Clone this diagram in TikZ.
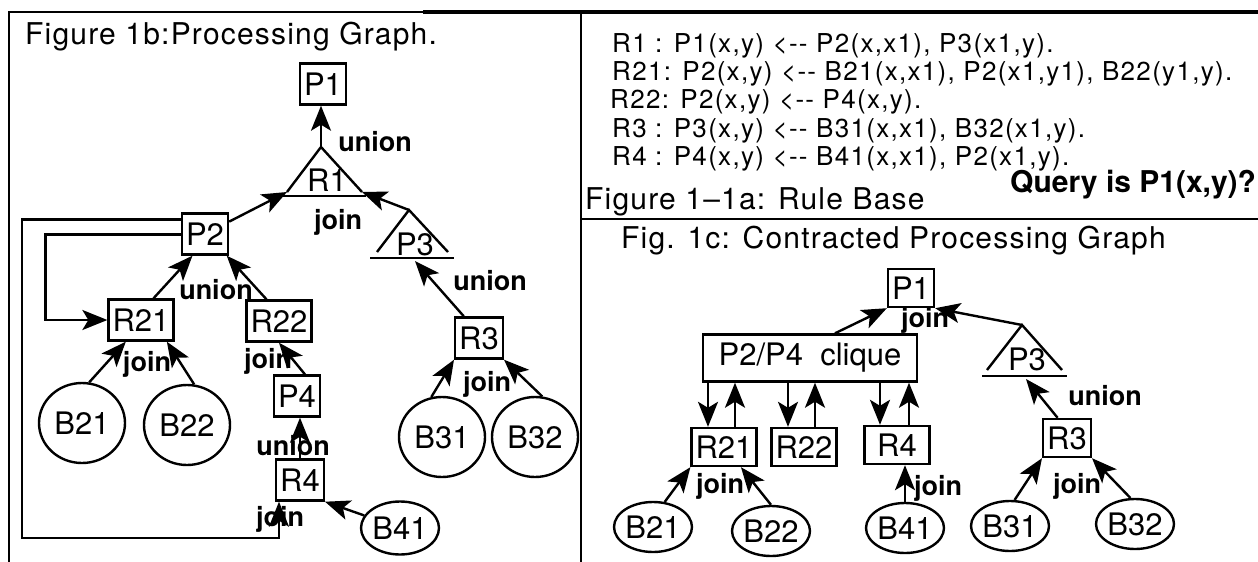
\documentclass[tikz,border=0pt]{standalone}
\usepackage{fontspec}
\setmainfont{TeX Gyre Heros}
\newfontfamily\rulefont[LetterSpace=5]{TeX Gyre Heros}
\newfontfamily\titlefont[LetterSpace=4]{TeX Gyre Heros}
\usetikzlibrary{arrows.meta, shapes.geometric, calc}
\tikzset{
    panelline/.style={line width=2.4pt},
    pnode/.style={draw, line width=2.4pt, rectangle, inner xsep=4pt,
                  inner ysep=0pt, minimum height=41pt,
                  font=\fontsize{31}{31}\selectfont},
    pnodec/.style={pnode, minimum height=38pt},
    bnode/.style={draw, line width=2.4pt, ellipse, inner sep=0pt,
                  minimum width=86pt, minimum height=80pt,
                  font=\fontsize{31}{31}\selectfont},
    bnodec/.style={bnode, minimum width=74pt, minimum height=50pt},
    trilbl/.style={inner sep=0pt, font=\fontsize{31}{31}\selectfont},
    opl/.style={inner sep=0pt, font=\fontsize{27}{27}\selectfont\bfseries},
    ttl/.style={anchor=west, inner sep=0pt,
                font=\fontsize{30}{30}\selectfont\titlefont},
    rulerow/.style={anchor=west, inner sep=0pt,
                    font=\fontsize{26}{26}\selectfont\rulefont},
    arr/.style={-{Stealth[length=25pt, width=20pt, inset=6pt]}, line width=2.4pt},
    ln/.style={line width=2.4pt},
}
\begin{document}
\begin{tikzpicture}[x=1pt, y=-1pt]
\useasboundingbox (0,0) rectangle (1258,562);

% --- frame ---
\draw[panelline] (9,562) -- (9,12) -- (423,12);
\draw[line width=3.4pt] (423,12) -- (1258,12);
\draw[panelline] (581,12) -- (581,562);
\draw[panelline] (581,219) -- (1258,219);

% --- LEFT: processing graph ---
\node[ttl] (t-b) at (25,37) {Figure 1b:Processing Graph.};
\node[pnode] (P1) at (323,84) {P1};
\node[pnode] (P2) at (205,234) {P2};
\node[pnode] (R21) at (141,320) {R21};
\node[pnode] (R22) at (279,321) {R22};
\node[pnode] (P4) at (297,396) {P4};
\node[pnode] (R4) at (300,480) {R4};
\node[pnode] (R3) at (479,338) {R3};
\node[bnode] (B21) at (82,423) {B21};
\node[bnode] (B22) at (187,425) {B22};
\node[bnode] (B31) at (442,437) {B31};
\node[bnode] (B32) at (535,437) {B32};
\node[bnode, minimum width=75pt, minimum height=53pt] (B41) at (400,528) {B41};

\node[trilbl] (R1) at (327,180) {R1};
\coordinate (R1-a) at (321,147);
\coordinate (R1-l) at (287,192);
\coordinate (R1-r) at (362,192);
\draw[ln] (R1-l) -- (R1-a) -- (R1-r);
\draw[ln] (282,196) -- (366,196);

\node[trilbl] (P3) at (415,244) {P3};
\coordinate (P3-a) at (409,210);
\coordinate (P3-b) at (415,261);
\draw[ln] (377,252) -- (P3-a) -- (448,252);
\draw[ln] (370,258) -- (454,258);

\node[opl] (u-1) at (375,142) {union};
\node[opl] (j-1) at (338,222) {join};
\node[opl] (u-3) at (490,281) {union};
\node[opl] (u-2) at (216,290) {union};
\node[opl] (j-21) at (147,364) {join};
\node[opl] (j-22) at (268,361) {join};
\node[opl] (u-4) at (293,446) {union};
\node[opl] (j-4) at (280,519) {join};
\node[opl] (j-3) at (487,384) {join};

\draw[arr] (R1-a) -- (R1-a |- P1.south);
\draw[arr] (P2) -- (R1-l);
\draw[arr] (P3-a) -- (R1-r);
\draw[arr] (R3.125) -- (P3-b);
\draw[arr] (R21.60) -- (P2.240);
\draw[arr] (R22.120) -- (P2.-45);
\draw[arr] (P4.70) -- (R22.south);
\draw[arr] (R4.north) -- (R4.north |- P4.south);
\draw[arr] (B41) -- (R4.south east);
\draw[arr] (B21.80) -- (R21.235);
\draw[arr] (B22.80) -- (R21.320);
\draw[arr] (B31.105) -- (R3.south west);
\draw[arr] (B32.80) -- (R3.south east);
\coordinate (loop-c) at (22,538);
\draw[arr] ([yshift=-7pt]P2.north west) -| (loop-c) -| ([xshift=4pt]R4.south west);
\draw[arr] ([yshift=-22pt]P2.north west) -| ([xshift=-62pt]R21.west) -- (R21.west);

% --- RIGHT TOP: rule base ---
\node[rulerow] (r-1) at (612,46) {R1 : P1(x,y) <{-}{-} P2(x,x1), P3(x1,y).};
\node[rulerow] (r-21) at (612,74) {R21: P2(x,y) <{-}{-} B21(x,x1), P2(x1,y1), B22(y1,y).};
\node[rulerow] (r-22) at (610,102) {R22: P2(x,y) <{-}{-} P4(x,y).};
\node[rulerow] (r-3) at (612,131) {R3 : P3(x,y) <{-}{-} B31(x,x1), B32(x1,y).};
\node[rulerow] (r-4) at (612,159) {R4 : P4(x,y) <{-}{-} B41(x,x1), P2(x1,y).};
\node[anchor=west, inner sep=0pt, font=\fontsize{30}{30}\selectfont\bfseries]
    (query) at (1010,185) {Query is P1(x,y)?};
\node[ttl] (t-a) at (585,202) {Figure 1\textendash 1a: Rule Base};

% --- RIGHT BOTTOM: contracted graph ---
\node[ttl] (t-c) at (621,241) {Fig. 1c: Contracted Processing Graph};
\node[pnodec] (P1c) at (911,288) {P1};
\node[pnodec, minimum width=214pt, minimum height=47pt] (cl) at (810,358) {P2/P4\ \ clique};
\node[pnodec] (R21c) at (724,447) {R21};
\node[pnodec] (R22c) at (804,447) {R22};
\node[pnodec, minimum width=65pt] (R4c) at (897,445) {R4};
\node[pnodec] (R3c) at (1067,438) {R3};
\node[bnodec] (B21c) at (653,527) {B21};
\node[bnodec] (B22c) at (771,531) {B22};
\node[bnodec] (B41c) at (905,528) {B41};
\node[bnodec] (B31c) at (1010,526) {B31};
\node[bnodec] (B32c) at (1135,524) {B32};

\node[trilbl] (P3c) at (1027,359) {P3};
\coordinate (P3c-a) at (1022,325);
\coordinate (P3c-b) at (1026,379);
\draw[ln] (987,370) -- (P3c-a) -- (1062,370);
\draw[ln] (982,376) -- (1067,376);

\node[opl] (jc-1) at (925,320) {join};
\node[opl] (uc-3) at (1105,396) {union};
\node[opl] (jc-3) at (1077,486) {join};
\node[opl] (jc-21) at (720,486) {join};
\node[opl] (jc-4) at (938,488) {join};

\draw[arr] ([xshift=25pt]cl.north) -- (P1c.south west);
\draw[arr] (P3c-a) -- (P1c.south east);
\draw[arr] (R3c.115) -- (P3c-b);
\draw[arr] ([xshift=-16pt]R21c.north |- cl.south) -- ([xshift=-16pt]R21c.north);
\draw[arr] ([xshift=11pt]R21c.north) -- ([xshift=11pt]R21c.north |- cl.south);
\draw[arr] ([xshift=-16pt]R22c.north |- cl.south) -- ([xshift=-16pt]R22c.north);
\draw[arr] ([xshift=11pt]R22c.north) -- ([xshift=11pt]R22c.north |- cl.south);
\draw[arr] ([xshift=-17pt]R4c.north |- cl.south) -- ([xshift=-17pt]R4c.north);
\draw[arr] ([xshift=12pt]R4c.north) -- ([xshift=12pt]R4c.north |- cl.south);
\draw[arr] (B21c.65) -- (R21c.south west);
\draw[arr] (B22c.north) -- (R21c.-50);
\draw[arr] (B41c.north) -- (B41c.north |- R4c.south);
\draw[arr] (B31c.80) -- (R3c.south west);
\draw[arr] (B32c.100) -- (R3c.south east);
\end{tikzpicture}
\end{document}
